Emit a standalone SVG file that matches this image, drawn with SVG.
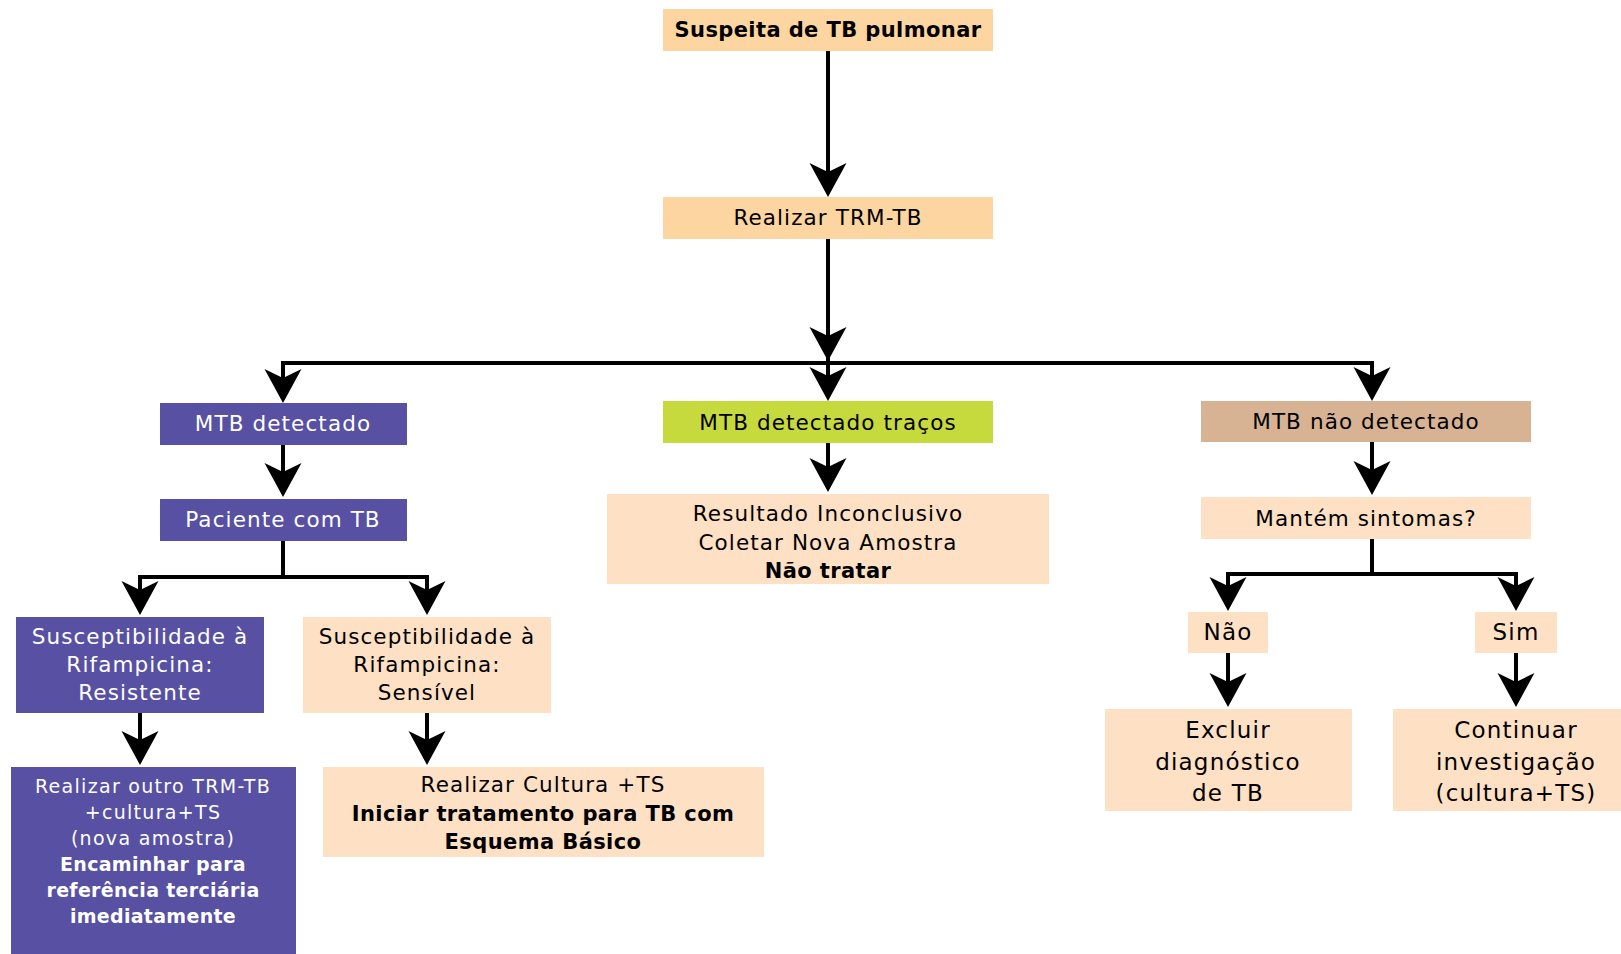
<svg xmlns="http://www.w3.org/2000/svg" xmlns:xlink="http://www.w3.org/1999/xlink" width="1621" height="954" viewBox="0 0 1621 954">
  <style>
    .t { font-family: "DejaVu Sans", "Liberation Sans", sans-serif; font-size: 21.5px; letter-spacing: 1.1px; text-anchor: middle; fill: #000; }
    .b { font-weight: bold; font-size: 21px; letter-spacing: 0.4px; }
    .sm { font-size: 19px; letter-spacing: 1.3px; }
    .smb { font-size: 19px; letter-spacing: 0.3px; }
    .lg { font-size: 23px; letter-spacing: 1.2px; }
    .w { fill: #fff; }
    .peach { fill: #FDD5A1; }
    .light { fill: #FEE1C5; }
    .purple { fill: #5750A3; }
    .green { fill: #C7DA3D; }
    .tan { fill: #D7B394; }
    .ln { stroke: #000; stroke-width: 4; fill: none; }
  </style>
  <defs>
    <!-- concave arrowhead, tip at origin, pointing down -->
    <path id="head" d="M0,0 L-18.5,-34 L0,-25 L18.5,-34 Z" fill="#000"/>
  </defs>

  <rect width="1621" height="954" fill="#fff"/>

  <g id="connectors">
    <path class="ln" d="M828,51 V177"/>
    <use xlink:href="#head" transform="translate(828,197)"/>

    <path class="ln" d="M828,239 V381"/>
    <use xlink:href="#head" transform="translate(828,361)"/>
    <use xlink:href="#head" transform="translate(828,401)"/>
    <path class="ln" d="M283,383 V363 H1372 V381"/>
    <use xlink:href="#head" transform="translate(283,403)"/>
    <use xlink:href="#head" transform="translate(1372,401)"/>

    <path class="ln" d="M283,445 V477"/>
    <use xlink:href="#head" transform="translate(283,497)"/>
    <path class="ln" d="M283,541 V577 M140,595 V577 H427 V595"/>
    <use xlink:href="#head" transform="translate(140,615)"/>
    <use xlink:href="#head" transform="translate(427,615)"/>
    <path class="ln" d="M140,713 V745 M427,713 V745"/>
    <use xlink:href="#head" transform="translate(140,765)"/>
    <use xlink:href="#head" transform="translate(427,765)"/>

    <path class="ln" d="M828,443 V472"/>
    <use xlink:href="#head" transform="translate(828,492)"/>

    <path class="ln" d="M1372,442 V475"/>
    <use xlink:href="#head" transform="translate(1372,495)"/>
    <path class="ln" d="M1372,539 V574 M1228,591 V574 H1516 V591"/>
    <use xlink:href="#head" transform="translate(1228,611)"/>
    <use xlink:href="#head" transform="translate(1516,611)"/>
    <path class="ln" d="M1228,653 V687 M1516,653 V687"/>
    <use xlink:href="#head" transform="translate(1228,707)"/>
    <use xlink:href="#head" transform="translate(1516,707)"/>
  </g>

  <g id="suspeita">
    <rect class="peach" x="663" y="9" width="330" height="42"/>
    <text class="t b" x="828" y="37">Suspeita de TB pulmonar</text>
  </g>
  <g id="trm">
    <rect class="peach" x="663" y="197" width="330" height="42"/>
    <text class="t" x="828" y="225">Realizar TRM-TB</text>
  </g>

  <g id="mtb-detectado">
    <rect class="purple" x="160" y="403" width="247" height="42"/>
    <text class="t w" x="283" y="431">MTB detectado</text>
  </g>
  <g id="paciente">
    <rect class="purple" x="160" y="499" width="247" height="42"/>
    <text class="t w" x="283" y="527">Paciente com TB</text>
  </g>
  <g id="resistente">
    <rect class="purple" x="16" y="617" width="248" height="96"/>
    <text class="t w" x="140" y="644">Susceptibilidade à</text>
    <text class="t w" x="140" y="672">Rifampicina:</text>
    <text class="t w" x="140" y="700">Resistente</text>
  </g>
  <g id="sensivel">
    <rect class="light" x="303" y="617" width="248" height="96"/>
    <text class="t" x="427" y="644">Susceptibilidade à</text>
    <text class="t" x="427" y="672">Rifampicina:</text>
    <text class="t" x="427" y="700">Sensível</text>
  </g>
  <g id="encaminhar">
    <rect class="purple" x="11" y="767" width="285" height="187"/>
    <text class="t sm w" x="153" y="793">Realizar outro TRM-TB</text>
    <text class="t sm w" x="153" y="819">+cultura+TS</text>
    <text class="t sm w" x="153" y="845">(nova amostra)</text>
    <text class="t b smb w" x="153" y="871">Encaminhar para</text>
    <text class="t b smb w" x="153" y="897">referência terciária</text>
    <text class="t b smb w" x="153" y="923">imediatamente</text>
  </g>
  <g id="cultura">
    <rect class="light" x="323" y="767" width="441" height="90"/>
    <text class="t" x="543" y="792">Realizar Cultura +TS</text>
    <text class="t b" x="543" y="821">Iniciar tratamento para TB com</text>
    <text class="t b" x="543" y="849">Esquema Básico</text>
  </g>

  <g id="tracos">
    <rect class="green" x="663" y="401" width="330" height="42"/>
    <text class="t" x="828" y="430">MTB detectado traços</text>
  </g>
  <g id="inconclusivo">
    <rect class="light" x="607" y="494" width="442" height="90"/>
    <text class="t" x="828" y="521">Resultado Inconclusivo</text>
    <text class="t" x="828" y="550">Coletar Nova Amostra</text>
    <text class="t b" x="828" y="578">Não tratar</text>
  </g>

  <g id="nao-detectado">
    <rect class="tan" x="1201" y="401" width="330" height="41"/>
    <text class="t" x="1366" y="429">MTB não detectado</text>
  </g>
  <g id="sintomas">
    <rect class="light" x="1201" y="497" width="330" height="42"/>
    <text class="t" x="1366" y="526">Mantém sintomas?</text>
  </g>
  <g id="nao">
    <rect class="light" x="1188" y="612" width="80" height="41"/>
    <text class="t lg" x="1228" y="640">Não</text>
  </g>
  <g id="sim">
    <rect class="light" x="1475" y="612" width="82" height="41"/>
    <text class="t lg" x="1516" y="640">Sim</text>
  </g>
  <g id="excluir">
    <rect class="light" x="1105" y="709" width="247" height="102"/>
    <text class="t lg" x="1228" y="738">Excluir</text>
    <text class="t lg" x="1228" y="770">diagnóstico</text>
    <text class="t lg" x="1228" y="801">de TB</text>
  </g>
  <g id="continuar">
    <rect class="light" x="1393" y="709" width="228" height="102"/>
    <text class="t lg" x="1516" y="738">Continuar</text>
    <text class="t lg" x="1516" y="770">investigação</text>
    <text class="t lg" x="1516" y="801">(cultura+TS)</text>
  </g>
</svg>
